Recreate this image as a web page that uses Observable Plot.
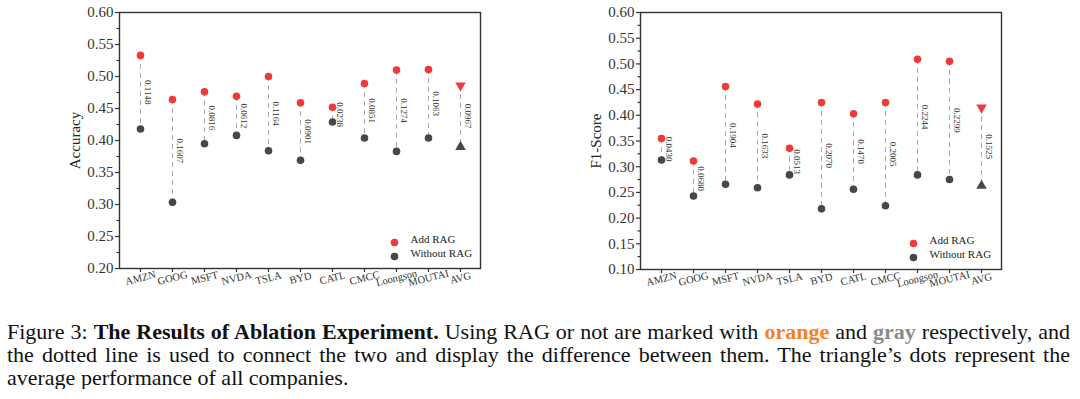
<!DOCTYPE html>
<html>
<head>
<meta charset="utf-8">
<script src="https://cdn.jsdelivr.net/npm/d3@7"></script>
<script src="https://cdn.jsdelivr.net/npm/@observablehq/plot@0.6"></script>
<style>
  html, body { margin: 0; padding: 0; background: #fff; }
  #charts { display: flex; width: 1080px; height: 300px; }
  #charts > div { width: 540px; height: 300px; }
  #caption { margin-top: 19.5px; padding-left: 7px; width: 1063px;
    font-family: "Liberation Serif", "Times New Roman", serif; font-size: 22px; line-height: 23.3px; color: #111; }
  #caption .j { text-align: justify; text-align-last: justify; white-space: nowrap; }
  #caption .l { text-align: left; }
  .or { color: #f5821f; font-weight: bold; }
  .gr { color: #8a8a8a; font-weight: bold; }
</style>
</head>
<body>
<div id="charts"><div id="left"></div><div id="right"></div></div>
<div id="caption">
  <div class="j">Figure 3: <b>The Results of Ablation Experiment.</b> Using RAG or not are marked with <span class="or">orange</span> and <span class="gr">gray</span> respectively, and</div>
  <div class="j">the dotted line is used to connect the two and display the difference between them. The triangle’s dots represent the</div>
  <div class="l">average performance of all companies.</div>
</div>
<script>
const companies = ["AMZN","GOOG","MSFT","NVDA","TSLA","BYD","CATL","CMCC","Loongson","MOUTAI","AVG"];

// Accuracy
const accAdd     = [0.533, 0.464, 0.476, 0.469, 0.500, 0.459, 0.452, 0.489, 0.510, 0.511, 0.486];
const accWithout = [0.418, 0.3035, 0.395, 0.408, 0.384, 0.369, 0.429, 0.404, 0.383, 0.404, 0.390];
const accDiff    = ["0.1148","0.1607","0.0816","0.0612","0.1164","0.0901","0.0238","0.0851","0.1274","0.1063","0.0967"];
const accTicks   = [0.20,0.25,0.30,0.35,0.40,0.45,0.50,0.55,0.60];

// F1-Score
const f1Add      = [0.355, 0.311, 0.456, 0.422, 0.336, 0.425, 0.403, 0.425, 0.509, 0.505, 0.415];
const f1Without  = [0.313, 0.243, 0.266, 0.259, 0.284, 0.218, 0.256, 0.224, 0.284, 0.275, 0.263];
const f1Diff     = ["0.0430","0.0680","0.1904","0.1633","0.0513","0.2070","0.1470","0.2005","0.2244","0.2299","0.1525"];
const f1Ticks    = [0.10,0.15,0.20,0.25,0.30,0.35,0.40,0.45,0.50,0.55,0.60];

const legendLabels = ["Add RAG", "Without RAG"];
const RED = "#f03a3a", GRAY = "#474747";

function chart({add, without, diff, ticks, yLabel, marginLeft, marginRight, marginBottom, legendDx}) {
  const rows = companies.map((c, i) => ({c, add: add[i], without: without[i], diff: diff[i], avg: c === "AVG"}));
  const minor = ticks.slice(1).map((t, i) => (t + ticks[i]) / 2);
  const pts = rows.filter(d => !d.avg), avg = rows.filter(d => d.avg);
  return Plot.plot({
    width: 540, height: 300,
    marginLeft, marginRight, marginTop: 12, marginBottom,
    style: {fontFamily: "Liberation Serif, Times New Roman, serif", fontSize: "15px", color: "#333", background: "#fff"},
    x: {type: "point", domain: companies, padding: 0.5},
    y: {domain: [ticks[0], ticks[ticks.length - 1]]},
    marks: [
      Plot.ruleX(rows, {x: "c", y1: "add", y2: "without", stroke: "#a8a8a8", strokeWidth: 1, strokeDasharray: "5,4"}),
      Plot.text(rows, {x: "c", y: d => (d.add + d.without) / 2, text: "diff", rotate: 90, dx: 7.5, fontSize: 9, fill: "#333"}),
      Plot.dot(pts, {x: "c", y: "without", fill: GRAY, r: 3.8}),
      Plot.dot(pts, {x: "c", y: "add", fill: RED, r: 3.8}),
      Plot.dot(avg, {x: "c", y: "without", fill: GRAY, symbol: "triangle", r: 3.9}),
      Plot.dot(avg, {x: "c", y: "add", fill: RED, symbol: "triangle", r: 3.9, rotate: 180}),
      Plot.frame({stroke: "#333", strokeWidth: 1.4}),
      Plot.axisY({ticks, tickFormat: d3.format(".2f"), tickSize: 4, tickPadding: 2, label: null, strokeWidth: 1.2}),
      Plot.axisY({ticks: minor, tickFormat: () => "", tickSize: 2.5, label: null, strokeWidth: 1.2}),
      Plot.axisX({tickSize: 4, tickFormat: () => "", label: null, strokeWidth: 1.2}),
      Plot.text(companies, {x: d => d, frameAnchor: "bottom", dy: 9.5, rotate: -14, textAnchor: "middle", lineAnchor: "middle", fontSize: 10.5, fill: "#333"}),
      Plot.text([yLabel], {frameAnchor: "left", dx: -44, rotate: -90, textAnchor: "middle", lineAnchor: "middle", fontSize: 15, fill: "#222"}),
      Plot.dot([legendLabels[0]], {frameAnchor: "bottom-right", dx: legendDx, dy: -26, fill: RED, r: 3.8}),
      Plot.dot([legendLabels[1]], {frameAnchor: "bottom-right", dx: legendDx, dy: -12, fill: GRAY, r: 3.8}),
      Plot.text([legendLabels[0]], {frameAnchor: "bottom-right", dx: legendDx + 16, dy: -26, text: d => d, textAnchor: "start", fontSize: 11, fill: "#222"}),
      Plot.text([legendLabels[1]], {frameAnchor: "bottom-right", dx: legendDx + 16, dy: -12, text: d => d, textAnchor: "start", fontSize: 11, fill: "#222"})
    ]
  });
}

document.getElementById("left").append(chart({add: accAdd, without: accWithout, diff: accDiff, ticks: accTicks, yLabel: "Accuracy", marginLeft: 119, marginRight: 60, marginBottom: 32, legendDx: -86}));
document.getElementById("right").append(chart({add: f1Add, without: f1Without, diff: f1Diff, ticks: f1Ticks, yLabel: "F1-Score", marginLeft: 100, marginRight: 79, marginBottom: 31, legendDx: -88}));
</script>
</body>
</html>
